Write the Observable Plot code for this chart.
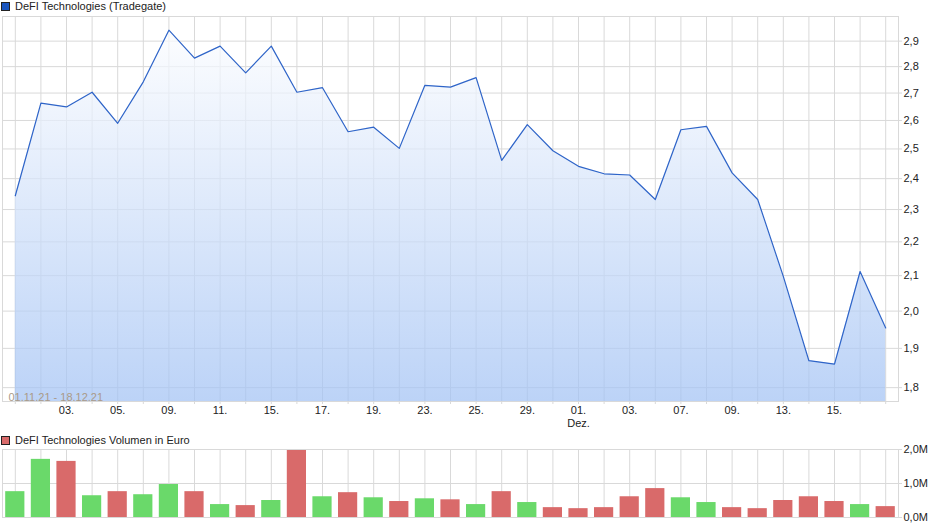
<!DOCTYPE html>
<html><head><meta charset="utf-8">
<script src="https://cdn.jsdelivr.net/npm/d3@7"></script>
<script src="https://cdn.jsdelivr.net/npm/@observablehq/plot@0.6"></script>
<style>
body{margin:0;background:#fff;font-family:"Liberation Sans",Arial,sans-serif;}
#wrap{position:relative;width:940px;height:526px;overflow:hidden;}
.leg{position:absolute;left:1px;font-size:11px;line-height:12px;color:#222;display:flex;align-items:center;white-space:nowrap;}
.sq{width:7px;height:7px;border:1px solid #222;margin-right:5px;display:inline-block}
</style></head><body>
<div id="wrap">
<div class="leg" style="top:0px"><span class="sq" style="background:#1a56c0"></span>DeFI Technologies (Tradegate)</div>
<div id="c1" style="position:absolute;top:12px;left:0"></div>
<div class="leg" style="top:434px"><span class="sq" style="background:#d96a6a"></span>DeFI Technologies Volumen in Euro</div>
<div id="c2" style="position:absolute;top:440px;left:0"></div>
</div>
<script>
const dates = ["01.11","02.11","03.11","04.11","05.11","08.11","09.11","10.11","11.11","12.11",
  "15.11","16.11","17.11","18.11","19.11","22.11","23.11","24.11","25.11","26.11","29.11","30.11",
  "01.12","02.12","03.12","06.12","07.12","08.12","09.12","10.12","13.12","14.12","15.12","16.12","17.12"];
const prices = [2.344,2.663,2.649,2.703,2.590,2.742,2.944,2.833,2.880,2.776,2.880,2.703,2.720,2.560,2.576,2.502,
  2.729,2.722,2.758,2.461,2.585,2.494,2.441,2.416,2.412,2.332,2.567,2.579,2.419,2.332,2.098,1.868,1.859,2.112,1.954];
const volumes = [0.76,1.71,1.65,0.64,0.76,0.67,0.97,0.76,0.38,0.35,0.50,1.98,0.61,0.73,0.58,0.47,0.55,0.52,
  0.38,0.76,0.44,0.29,0.26,0.29,0.61,0.85,0.58,0.44,0.29,0.26,0.50,0.61,0.47,0.38,0.32];
const priceTicks = [1.8,1.9,2.0,2.1,2.2,2.3,2.4,2.5,2.6,2.7,2.8,2.9];
const volumeTicks = [0,1,2];
const labelIdx = [2,4,6,8,10,12,14,16,18,20,22,24,26,28,30,32];
const monthLabels = [{i:22, text:"Dez."}];
const dateRange = "01.11.21 - 18.12.21";

const n = dates.length;
const idx = d3.range(n);
const font = "'Liberation Sans', Arial, sans-serif";
const dec = d => d.toFixed(1).replace(".", ",");
const grid = "#d9d9d9";

const p1 = Plot.plot({
  width: 940, height: 418,
  marginLeft: 2, marginRight: 42, marginTop: 4, marginBottom: 29,
  x: {type: "linear", domain: [-0.5, n - 0.5], axis: null, label: null},
  y: {type: "log", domain: [1.766, 3.0], axis: null, label: null},
  style: {fontFamily: font, fontSize: "11px", color: "#222", background: "transparent"},
  marks: [
    Plot.ruleY(priceTicks, {stroke: grid}),
    Plot.ruleX(idx, {stroke: grid}),
    Plot.areaY(idx, {x: d => d, y1: 1.766, y2: d => prices[d], fill: "url(#pgrad)", fillOpacity: 0.72}),
    Plot.lineY(idx, {x: d => d, y: d => prices[d], stroke: "#2e64c8", strokeWidth: 1.2}),
    Plot.frame({stroke: grid}),
    Plot.axisY(priceTicks, {anchor: "right", tickSize: 3, tickPadding: 2, stroke: grid, tickFormat: dec, label: null}),
    Plot.axisX(idx, {anchor: "bottom", tickSize: 3, stroke: grid, tickFormat: () => "", label: null}),
    Plot.axisX(labelIdx, {anchor: "bottom", tickSize: 0, tickPadding: 5, tickFormat: i => dates[i].slice(0, 2) + ".", label: null}),
    Plot.text(monthLabels, {x: d => d.i, text: d => d.text, frameAnchor: "bottom", lineAnchor: "middle", dy: 22}),
    Plot.text([dateRange], {frameAnchor: "bottom-left", dx: 6, dy: -1, fill: "#aa9a88"})
  ]
});
const ns = "http://www.w3.org/2000/svg";
const defs = document.createElementNS(ns, "defs");
const lg = document.createElementNS(ns, "linearGradient");
lg.setAttribute("id", "pgrad");
lg.setAttribute("gradientUnits", "userSpaceOnUse");
lg.setAttribute("x1", "0"); lg.setAttribute("x2", "0");
lg.setAttribute("y1", "4"); lg.setAttribute("y2", "389");
[["0", "#ffffff"], ["1", "#a2c2f4"]].forEach(([o, c]) => {
  const s = document.createElementNS(ns, "stop");
  s.setAttribute("offset", o); s.setAttribute("stop-color", c);
  lg.appendChild(s);
});
defs.appendChild(lg);
p1.insertBefore(defs, p1.firstChild);
document.getElementById("c1").appendChild(p1);

const p2 = Plot.plot({
  width: 940, height: 86,
  marginLeft: 2, marginRight: 42, marginTop: 9, marginBottom: 9,
  x: {type: "linear", domain: [-0.5, n - 0.5], axis: null, label: null},
  y: {domain: [0, 2], axis: null, label: null},
  style: {fontFamily: font, fontSize: "11px", color: "#222", background: "transparent"},
  marks: [
    Plot.ruleY(volumeTicks, {stroke: grid}),
    Plot.ruleX(idx, {stroke: grid}),
    Plot.rectY(idx, {x1: d => d - 0.375, x2: d => d + 0.375, y1: 0, y2: d => volumes[d],
      fill: d => (d === 0 || prices[d] >= prices[d - 1]) ? "#6ad96a" : "#d96a6a"}),
    Plot.frame({stroke: grid}),
    Plot.axisY(volumeTicks, {anchor: "right", tickSize: 3, tickPadding: 2, stroke: grid, tickFormat: d => dec(d) + "M", label: null})
  ]
});
document.getElementById("c2").appendChild(p2);
</script>
</body></html>
